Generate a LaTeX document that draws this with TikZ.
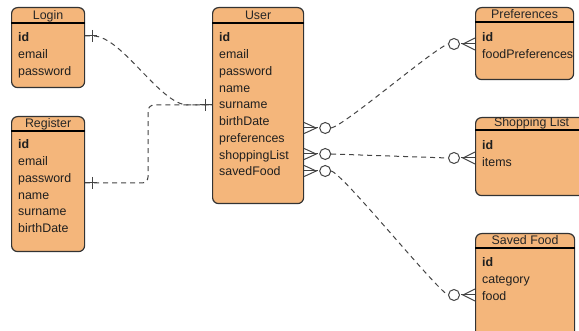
\documentclass[tikz,border=0pt]{standalone}
\usepackage{fontspec}
\setmainfont{Liberation Sans}
\definecolor{boxfill}{HTML}{F4B67B}
\definecolor{boxline}{HTML}{333333}
\definecolor{linkgray}{HTML}{444444}
\tikzset{
	entity/.style={draw=boxline, fill=boxfill, rounded corners=6pt, line width=1.2pt, anchor=north west, inner sep=0pt},
	title/.style={anchor=base, inner sep=0pt, text=black!85, font=\fontsize{12.4}{15}\selectfont},
	field/.style={anchor=base west, inner sep=0pt, text=black!88, font=\fontsize{12.4}{15}\selectfont},
	conn/.style={draw=linkgray, line width=1pt, dash pattern=on 5pt off 4pt},
	endmark/.style={draw=linkgray, line width=1pt},
	ring/.style={circle, draw=linkgray, line width=1pt, fill=white, minimum size=11pt, inner sep=0pt}
}
\begin{document}
\begin{tikzpicture}[x=1pt,y=-1pt]
	\useasboundingbox (0,0) rectangle (579,331);

	%entities
	\node[entity, minimum width=73pt, minimum height=80pt] (login) at (11,7) {};
	\node[entity, minimum width=73pt, minimum height=135pt] (register) at (11,116) {};
	\node[entity, minimum width=91pt, minimum height=196pt] (user) at (212,7) {};
	\node[entity, minimum width=98pt, minimum height=72pt] (prefs) at (475,7) {};
	\node[entity, minimum width=112pt, minimum height=78pt] (shop) at (475,117) {};
	\node[entity, minimum width=99pt, minimum height=110pt] (saved) at (475,233) {};

	%headers
	\foreach \e/\t/\h in {login/Login/16, register/Register/15, user/User/16, prefs/Preferences/15, shop/Shopping List/13, saved/Saved Food/15}{
		\draw[line width=1.1pt] ([yshift=-\h pt]\e.north west) -- ([yshift=-\h pt]\e.north east);
		\node[title] (\e-title) at ([yshift={-\h pt+3pt}]\e.north) {\t};
	}

	%fields
	\foreach \f [count=\i from 0] in {\textbf{id},email,password}
		\node[field] (login-\i) at ([xshift=7pt,yshift={-35pt-16.75pt*\i}]login.north west) {\f};
	\foreach \f [count=\i from 0] in {\textbf{id},email,password,name,surname,birthDate}
		\node[field] (register-\i) at ([xshift=7pt,yshift={-33pt-16.75pt*\i}]register.north west) {\f};
	\foreach \f [count=\i from 0] in {\textbf{id},email,password,name,surname,birthDate,preferences,shoppingList,savedFood}
		\node[field] (user-\i) at ([xshift=7pt,yshift={-35pt-16.75pt*\i}]user.north west) {\f};
	\foreach \f [count=\i from 0] in {\textbf{id},foodPreferences}
		\node[field] (prefs-\i) at ([xshift=7pt,yshift={-35pt-16.75pt*\i}]prefs.north west) {\f};
	\foreach \f [count=\i from 0] in {\textbf{id},items}
		\node[field] (shop-\i) at ([xshift=7pt,yshift={-33pt-16.75pt*\i}]shop.north west) {\f};
	\foreach \f [count=\i from 0] in {\textbf{id},category,food}
		\node[field] (saved-\i) at ([xshift=7pt,yshift={-34pt-16.75pt*\i}]saved.north west) {\f};

	%one side
	\coordinate (login-r) at (login.east |- 0,36);
	\coordinate (register-r) at (register.east |- 0,183);
	\coordinate (user-l) at (user.west |- 0,105);
	\draw[conn] (login-r) -- ++(8,0) .. controls (122,36) and (160,105) .. (188,105) -- (user-l);
	\draw[conn, rounded corners=6pt] (register-r) -| (148,105) -- (user-l);
	\foreach \c in {login-r, register-r}{
		\draw[endmark] (\c) -- ++(12,0);
		\draw[endmark] (\c) ++(7,-6) -- ++(0,12);
	}
	\draw[endmark] (user-l) -- ++(-12,0);
	\draw[endmark] (user-l) ++(-7,-6) -- ++(0,12);

	%many side
	\foreach \n/\y in {1/128, 2/154, 3/171}{
		\coordinate (user-r\n) at (user.east |- 0,\y);
		\draw[endmark] (user-r\n) ++(0,-5.5) -- ++(12,5.5) -- ++(-12,5.5);
		\draw[endmark] (user-r\n) -- ++(14,0);
		\node[ring] (ring-u\n) at ([xshift=21pt]user-r\n) {};
	}
	\coordinate (prefs-l) at (prefs.west |- 0,44);
	\coordinate (shop-l) at (shop.west |- 0,158);
	\coordinate (saved-l) at (saved.west |- 0,295);
	\foreach \c in {prefs-l, shop-l, saved-l}{
		\draw[endmark] (\c) ++(0,-6) -- ++(-12,6) -- ++(12,6);
		\draw[endmark] (\c) -- ++(-14,0);
		\node[ring] (ring-\c) at ([xshift=-21pt]\c) {};
	}
	\draw[conn] (ring-u1.east) .. controls +(14,-3) and +(-16,6) .. (ring-prefs-l.west);
	\draw[conn] (ring-u2.east) -- (ring-shop-l.west);
	\draw[conn] (ring-u3.east) .. controls +(12,3) and +(-14,-8) .. (ring-saved-l.west);
\end{tikzpicture}
\end{document}
